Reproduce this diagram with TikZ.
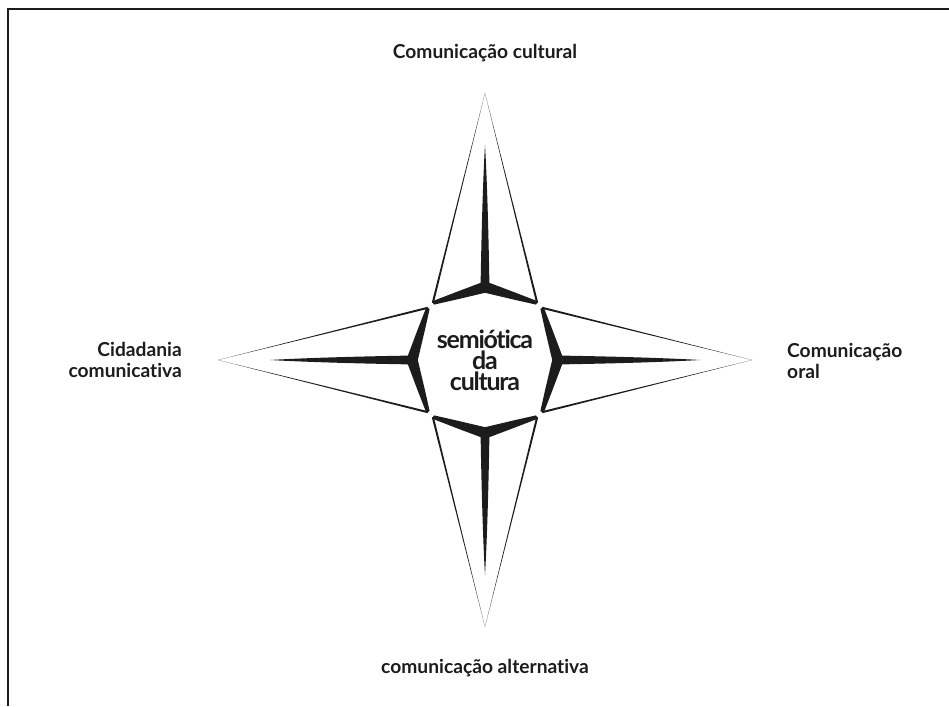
\documentclass[tikz,border=0pt]{standalone}
\usepackage{fontspec}
\setmainfont{Lato}[Ligatures={NoCommon}]
\newfontfamily\hubfont{Lato}[Ligatures={NoCommon}, LetterSpace=-5, BoldFont={Lato Bold}]
\usepackage{xcolor}
\definecolor{ink}{RGB}{28,28,28}
\tikzstyle{Label} = [
font=\bfseries\fontsize{19.2}{21.5}\selectfont,
text=ink,
inner sep=0pt]
\tikzstyle{Hub} = [
font=\hubfont\bfseries\fontsize{25}{21}\selectfont,
text=ink,
align=center,
inner sep=0pt]
\tikzstyle{Ink} = [fill=ink, draw=none]

\begin{document}
\begin{tikzpicture}[x=1pt, y=1pt]
    \useasboundingbox (0,0) rectangle (949,706);
    \draw[line width=1.3pt, ink] (8,0) -- (8,697) -- (949,697);

    \node[Hub] (hub) at (485,346) {semiótica\\da\\cultura};

    % the four arms of the star, drawn pointing right and turned
    \foreach \ang in {0,90,180,270} {
      \begin{scope}[shift={(hub.center)}, rotate=\ang]
        \fill[Ink] (57.4,53.2) -- (267,0) -- (56.8,51.2) -- cycle;
        \fill[Ink] (57.4,-53.2) -- (267,0) -- (56.8,-51.2) -- cycle;
        \fill[Ink] (58.6,53) -- (67.5,30) -- (78.8,0) -- (67.5,-30) -- (58.6,-53)
                   -- (55.4,-51) -- (60.1,-30) -- (67.2,0) -- (60.1,30) -- (55.4,51) -- cycle;
        \fill[Ink] (70,-4.5) .. controls (150,-3.2) and (195,-1.2) .. (215,0)
                   .. controls (195,1.2) and (150,3.2) .. (70,4.5) -- cycle;
      \end{scope}
    }

    \node[Label] (cult) at (485,653) {Comunicação cultural};
    \node[Label] (alt) at (485,38) {comunicação alternativa};
    \node[Label, align=right, anchor=east] (cid) at (182,346) {Cidadania\\comunicativa};
    \node[Label, align=left, anchor=west] (oral) at (787,345) {Comunicação\\oral};
\end{tikzpicture}
\end{document}
